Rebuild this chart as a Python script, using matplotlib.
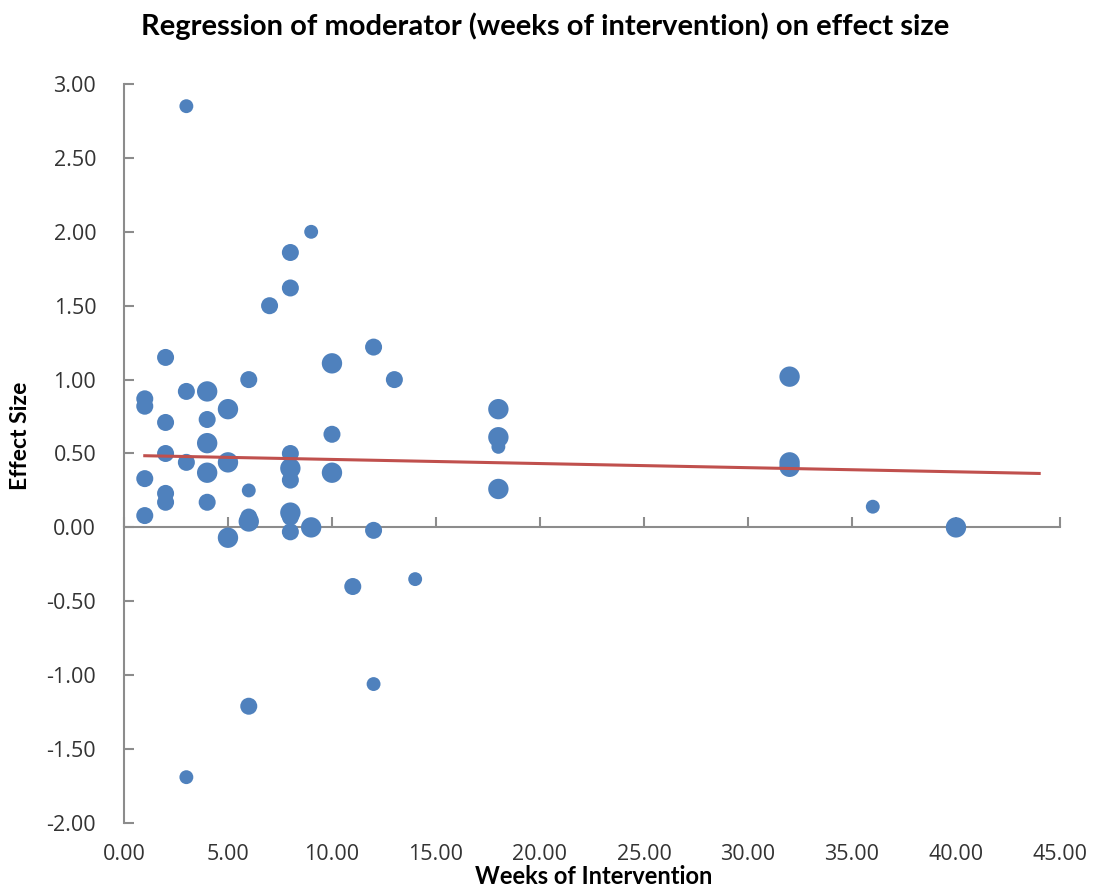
import numpy as np
import matplotlib
matplotlib.use("Agg")
import matplotlib.pyplot as plt

# weeks of intervention, effect size, point weight (bubble size)
weeks = [1, 1, 1, 1,
         2, 2, 2, 2, 2,
         3, 3, 3, 3,
         4, 4, 4, 4, 4,
         5, 5, 5,
         6, 6, 6, 6, 6,
         7,
         8, 8, 8, 8, 8, 8, 8, 8,
         9, 9,
         10, 10, 10,
         11,
         12, 12, 12,
         13,
         14,
         18, 18, 18, 18,
         32, 32, 32,
         36,
         40]
effect = [0.87, 0.82, 0.33, 0.08,
          1.15, 0.71, 0.50, 0.23, 0.17,
          2.85, 0.92, 0.44, -1.69,
          0.92, 0.73, 0.57, 0.37, 0.17,
          0.80, 0.44, -0.07,
          1.00, 0.25, 0.07, 0.04, -1.21,
          1.50,
          1.86, 1.62, 0.50, 0.40, 0.32, 0.10, 0.07, -0.03,
          2.00, 0.00,
          1.11, 0.63, 0.37,
          -0.40,
          1.22, -0.02, -1.06,
          1.00,
          -0.35,
          0.80, 0.61, 0.545, 0.26,
          1.02, 0.44, 0.41,
          0.14,
          0.00]
weight = ["m", "m", "m", "m",
          "m", "m", "m", "m", "m",
          "s", "m", "m", "s",
          "l", "m", "l", "l", "m",
          "l", "l", "l",
          "m", "s", "m", "l", "m",
          "m",
          "m", "m", "m", "l", "m", "l", "m", "m",
          "s", "l",
          "l", "m", "l",
          "m",
          "m", "m", "s",
          "m",
          "s",
          "l", "l", "s", "l",
          "l", "l", "l",
          "s",
          "l"]

# fitted regression line (end points)
trend_x = [1, 44]
trend_y = [0.485, 0.365]

x_ticks = np.arange(0, 46, 5)
y_ticks = np.arange(-2, 3.01, 0.5)

size_map = {"s": 100, "m": 150, "l": 215}
sizes = [size_map[w] for w in weight]

blue = "#4f81bd"
red = "#c0504d"
grey = "#8c8c8c"

fig = plt.figure(figsize=(10.99, 8.90), dpi=100)
ax = fig.add_axes([0.1128, 0.0753, 0.8517, 0.8303])

ax.scatter(weeks, effect, s=sizes, color=blue, edgecolors="none", zorder=3)
ax.plot(trend_x, trend_y, color=red, lw=2.2, zorder=4)

ax.set_xlim(0, 45)
ax.set_ylim(-2, 3)
ax.set_xticks(x_ticks)
ax.set_yticks(y_ticks)
ax.set_xticklabels([f"{v:.2f}" for v in x_ticks])
ax.set_yticklabels([f"{v:.2f}" for v in y_ticks])

for s in ["top", "right", "bottom"]:
    ax.spines[s].set_visible(False)
ax.spines["left"].set_color(grey)
ax.spines["left"].set_linewidth(1.5)

ax.tick_params(axis="y", direction="in", length=7, width=1.5, color=grey,
               labelsize=15.5, pad=20, labelcolor="#333333")
ax.tick_params(axis="x", length=0, labelsize=15.5, pad=15, labelcolor="#333333")
for lab in ax.get_xticklabels() + ax.get_yticklabels():
    lab.set_fontfamily("Open Sans")

# horizontal axis crossing at zero
sec = ax.secondary_xaxis(0.4)
sec.set_xticks(x_ticks)
sec.set_xticklabels([])
sec.spines["bottom"].set_color(grey)
sec.spines["bottom"].set_linewidth(1.5)
sec.spines["top"].set_color(grey)
sec.spines["top"].set_linewidth(1.5)
sec.tick_params(axis="x", direction="in", length=7, width=1.5, color=grey)

fig.text(0.496, 0.970, "Regression of moderator (weeks of intervention) on effect size",
         fontsize=21, fontweight="bold", family="Lato", ha="center", va="center")
fig.text(0.540, 0.015, "Weeks of Intervention", fontsize=17, fontweight="bold",
         family="Lato", ha="center", va="center")
fig.text(0.019, 0.510, "Effect Size", fontsize=16.5, fontweight="bold",
         family="Lato", ha="center", va="center", rotation=90)

fig.savefig("out.png", dpi=100)
